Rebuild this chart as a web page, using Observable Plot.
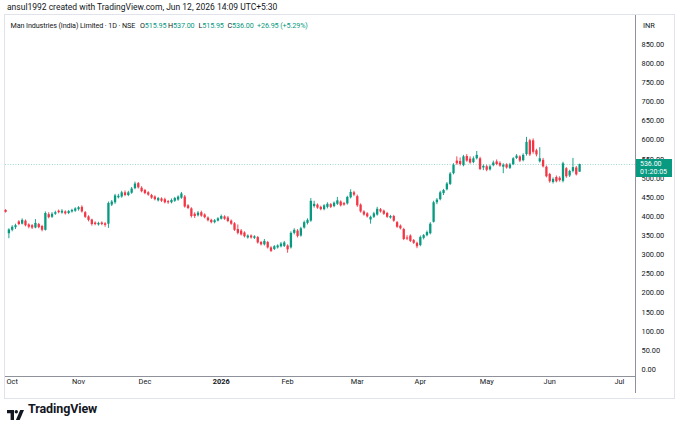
<!DOCTYPE html>
<html><head><meta charset="utf-8">
<script src="https://cdn.jsdelivr.net/npm/d3@7"></script>
<script src="https://cdn.jsdelivr.net/npm/@observablehq/plot@0.6"></script>
<style>
body{margin:0;background:#fff;}
#wrap{position:relative;width:680px;height:427px;overflow:hidden;font-family:Roboto,"Noto Sans",sans-serif;color:#131722;background:#fff;}
.abs{position:absolute;white-space:nowrap;}
.v{color:#089981;}
.lg{position:absolute;top:0;white-space:nowrap;}
</style></head><body>
<div id="wrap">
  <div class="abs" style="left:4px;top:14px;width:669px;height:383px;border:1px solid #e0e3eb;"></div>
  <div id="chart" class="abs" style="left:0;top:0;"></div>
  <div class="abs" style="left:635px;top:15px;width:1px;height:378px;background:#8f929b;"></div>
  <div class="abs" style="left:5px;top:376px;width:631px;height:1px;background:#8f929b;"></div>
  <div class="abs" id="credit" style="left:7px;top:2px;font-size:8.5px;"></div>
  <div class="abs" id="legend" style="left:0;top:20.5px;font-size:7.2px;letter-spacing:-0.1px;width:330px;height:12px;">
    <div class="lg" id="lg-name" style="left:10.5px;"></div>
    <div class="lg" id="lg-o" style="left:140px;"></div>
    <div class="lg" id="lg-h" style="left:168px;"></div>
    <div class="lg" id="lg-l" style="left:198.5px;"></div>
    <div class="lg" id="lg-c" style="left:227.5px;"></div>
    <div class="lg v" id="lg-chg" style="left:257px;"></div>
  </div>
  <div class="abs" style="left:643px;top:20.5px;font-size:7.4px;">INR</div>
  <div class="abs" id="pricebox" style="left:636px;width:36px;height:18px;background:#089981;color:#fff;font-size:7px;line-height:8.5px;padding-left:4px;box-sizing:border-box;padding-top:1px;"></div>
  <div class="abs" style="left:7px;top:405px;">
    <svg width="17" height="10" viewBox="0 0 17 10"><path d="M0 0h7v10H3.6V3.3H0z" fill="#131722"/><circle cx="9.3" cy="1.7" r="1.7" fill="#131722"/><path d="M13.2 0h3.8l-4.3 10H8.9z" fill="#131722"/></svg>
  </div>
  <div class="abs" style="left:28px;top:401px;font-size:12.5px;font-weight:700;letter-spacing:-0.1px;">TradingView</div>
</div>
<script>
// ---- data ----
const firstIndex = -2; // bar index of the first candle (0 = first trading day of October)
const opens = [
  416,355,364,371,386,380,388,378,376,370,
  379,374,364,405,398,406,414,409,412,408,
  412,414,418,424,410,399,391,383,378,383,
  381,380,430,436,449,451,462,455,461,473,
  486,474,468,462,455,451,441,446,444,439,
  436,440,443,448,451,428,420,406,402,410,
  404,396,390,384,388,393,399,396,388,381,
  366,362,357,344,349,343,345,332,326,332,
  318,314,318,321,322,323,318,356,362,349,
  370,382,388,426,430,424,418,424,431,426,
  432,438,434,433,449,462,452,430,412,407,
  391,398,404,418,414,408,396,400,384,375,
  366,344,349,337,330,324,343,350,355,385,
  436,444,460,470,484,512,545,544,533,557,
  550,541,551,551,527,530,522,533,543,539,
  529,535,526,536,552,556,546,562,598,598,
  572,543,547,529,510,489,502,500,492,525,
  506,518,527,515.95];
const highs = [
  418,368,376,380,389,394,391,381,379,392,
  382,377,412,410,410,414,417,418,415,416,
  419,423,426,428,413,402,393,386,385,386,
  384,438,442,458,458,466,467,466,476,490,
  489,478,471,465,458,454,450,449,448,442,
  446,450,454,463,455,431,423,410,413,414,
  407,399,393,392,397,404,402,400,391,384,
  378,366,360,352,352,350,348,335,340,335,
  321,324,326,332,335,326,360,368,366,372,
  388,394,447,440,433,427,431,436,434,438,
  450,441,437,453,470,466,456,433,415,410,
  401,411,424,421,417,411,403,403,387,378,
  369,350,352,340,333,349,353,362,384,440,
  447,466,471,489,515,538,556,553,560,562,
  556,556,570,555,535,534,534,545,548,543,
  538,538,539,554,562,559,564,607,602,603,
  576,580,552,532,513,501,506,504,542,528,
  521,552,531,537];
const lows = [
  409,342,360,366,376,378,373,368,366,368,
  368,360,362,394,395,403,407,406,404,405,
  409,411,414,409,395,386,375,376,375,376,
  372,369,426,432,446,448,452,452,458,470,
  472,462,457,453,445,441,438,437,433,432,
  433,437,440,445,422,418,396,395,399,398,
  394,386,381,381,386,391,390,384,377,361,
  352,349,344,341,341,340,328,323,323,315,
  306,311,315,318,319,304,315,352,344,346,
  367,378,385,422,419,415,415,420,421,423,
  429,425,427,430,446,452,424,409,401,396,
  380,395,401,409,403,395,393,385,369,365,
  337,337,332,327,316,321,339,347,352,383,
  431,441,455,467,481,509,534,532,530,542,
  537,538,548,520,520,517,519,530,533,529,
  512,524,523,533,549,541,543,558,557,563,
  556,540,527,501,487,485,488,490,488,500,
  502,514,506,515.95];
const closes = [
  411,365,372,376,379,390,376,372,370,382,
  371,364,408,397,406,410,410,414,407,413,
  416,420,423,412,398,390,379,379,382,379,
  377,434,438,454,453,462,455,462,472,485,
  475,465,460,456,448,444,447,440,436,436,
  442,447,451,459,425,421,400,400,409,401,
  397,389,384,389,394,400,393,387,380,364,
  356,352,347,349,344,347,331,326,335,318,
  309,321,323,328,331,313,356,364,348,368,
  384,390,440,432,422,418,428,432,424,435,
  441,428,430,450,463,456,428,412,404,399,
  398,407,419,412,406,398,400,388,372,368,
  340,341,335,330,321,345,350,358,380,436,
  443,462,468,485,511,534,538,536,556,545,
  540,551,560,523,531,521,530,540,536,532,
  534,527,535,551,558,545,560,594,561,568,
  561,551,530,504,491,497,491,494,538,504,
  518,528,509.05,536];
const monthTickIndex = [0, 20, 40, 63, 83, 104, 123, 143, 162, 183];
const monthTickLabel = ["Oct","Nov","Dec","2026","Feb","Mar","Apr","May","Jun","Jul"];
const priceTicks = [0,50,100,150,200,250,300,350,400,450,500,550,600,650,700,750,800,850];
const symbolName = "Man Industries (India) Limited · 1D · NSE";
const creditText = "ansul1992 created with TradingView.com, Jun 12, 2026 14:09 UTC+5:30";
const countdown = "01:20:05";

// ---- build ----
const up = "#089981", down = "#f23645";
const bars = opens.map((o, k) => ({i: firstIndex + k, o, h: highs[k], l: lows[k], c: closes[k]}));
const months = monthTickIndex.map((i, k) => ({i, label: monthTickLabel[k]}));
const last = bars[bars.length - 1], prev = bars[bars.length - 2];
const col = d => d.c >= d.o ? up : down;

const chart = Plot.plot({
  width: 680, height: 427,
  marginLeft: 5, marginRight: 45, marginTop: 15, marginBottom: 51,
  x: {type: "linear", domain: [-2.02, 187.85], axis: null},
  y: {domain: [-18.3, 925.7], axis: null},
  color: {type: "identity"},
  style: {background: "transparent", fontFamily: "Roboto, 'Noto Sans', sans-serif", fontSize: "7.4px", color: "#131722", overflow: "visible"},
  marks: [
    Plot.ruleY([last.c], {stroke: up, strokeOpacity: 0.5, strokeDasharray: "1 1.6", strokeWidth: 0.8}),
    Plot.ruleX(bars, {x: "i", y1: "l", y2: "h", stroke: col, strokeWidth: 0.9}),
    Plot.ruleX(bars, {x: "i", y1: "o", y2: "c", stroke: col, strokeWidth: 2.3}),
    Plot.axisY({anchor: "right", ticks: priceTicks, tickFormat: d => d.toFixed(2), tickSize: 0, tickPadding: 6, fill: "#131722"}),
    Plot.text(months.filter(d => d.label !== "2026"), {x: "i", text: "label", frameAnchor: "bottom", dy: 7.5, fill: "#131722"}),
    Plot.text(months.filter(d => d.label === "2026"), {x: "i", text: "label", frameAnchor: "bottom", dy: 7.5, fill: "#131722", fontWeight: "bold"})
  ]
});
document.getElementById("chart").appendChild(chart);

// header texts
document.getElementById("credit").textContent = creditText;
const chg = last.c - prev.c, pct = chg / prev.c * 100;
const f = v => v.toFixed(2);
const sg = v => (v >= 0 ? "+" : "") + f(v);
document.getElementById("lg-name").textContent = symbolName;
document.getElementById("lg-o").innerHTML = "O<span class='v'>" + f(last.o) + "</span>";
document.getElementById("lg-h").innerHTML = "H<span class='v'>" + f(last.h) + "</span>";
document.getElementById("lg-l").innerHTML = "L<span class='v'>" + f(last.l) + "</span>";
document.getElementById("lg-c").innerHTML = "C<span class='v'>" + f(last.c) + "</span>";
document.getElementById("lg-chg").textContent = sg(chg) + " (" + sg(pct) + "%)";

// last price label placed through the y scale
const yPix = chart.scale("y").apply(last.c);
const box = document.getElementById("pricebox");
box.style.top = (yPix - 5.5) + "px";
box.innerHTML = f(last.c) + "<br>" + countdown;
</script>
</body></html>
